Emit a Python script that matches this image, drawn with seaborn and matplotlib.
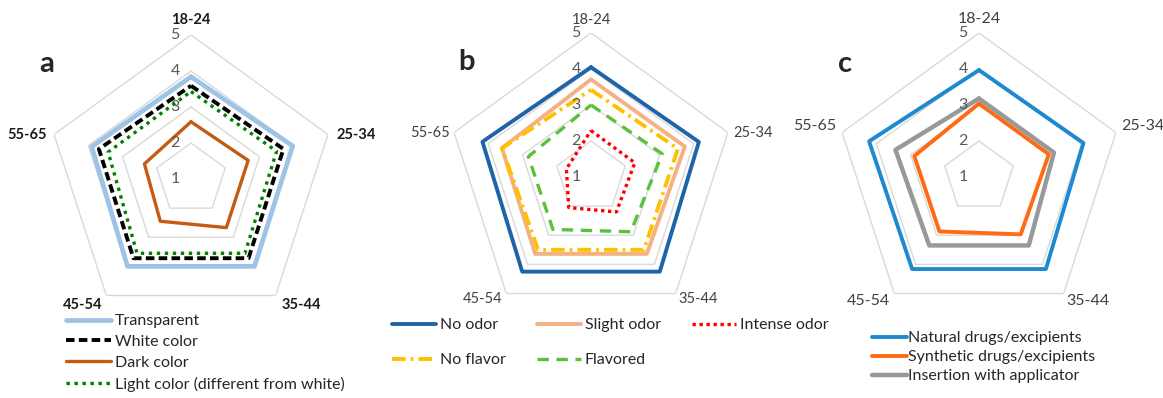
import numpy as np
import pandas as pd
import matplotlib
matplotlib.use("Agg")
import matplotlib.pyplot as plt
import seaborn as sns

# ---- data ----
categories = ["18-24", "25-34", "35-44", "45-54", "55-65"]
tick_values = [1, 2, 3, 4, 5]

# panel a: colour
a_labels = ["Transparent", "White color", "Dark color", "Light color (different from white)"]
a_transparent = [3.84, 3.97, 4.00, 4.00, 3.90]
a_white = [3.59, 3.70, 3.72, 3.72, 3.69]
a_dark = [2.59, 2.67, 2.67, 2.45, 2.36]
a_light = [3.43, 3.50, 3.55, 3.55, 3.42]

# panel b: odor / flavor
b_labels = ["No odor", "Slight odor", "Intense odor", "No flavor", "Flavored"]
b_no_odor = [4.05, 4.15, 4.25, 4.25, 4.17]
b_slight_odor = [3.71, 3.74, 3.64, 3.64, 3.60]
b_intense_odor = [2.29, 2.28, 2.20, 2.05, 1.72]
b_no_flavor = [3.42, 3.54, 3.50, 3.50, 3.60]
b_flavored = [3.00, 3.08, 2.88, 2.80, 2.83]

# panel c: drugs / applicator
c_labels = ["Natural drugs/excipients", "Synthetic drugs/excipients", "Insertion with applicator"]
c_natural = [3.97, 4.05, 4.16, 4.16, 4.21]
c_synthetic = [3.04, 3.04, 2.97, 2.87, 2.89]
c_applicator = [3.18, 3.19, 3.35, 3.35, 3.44]

sns.set_theme(style="white")
plt.rcParams["font.family"] = ["Lato", "DejaVu Sans"]

W, H = 1163, 398
fig = plt.figure(figsize=(W / 100, H / 100), dpi=100)
R = 144

angles = np.linspace(0, 2 * np.pi, len(categories), endpoint=False)
closed = np.append(angles, 2 * np.pi)


def make_ax(cx, cy):
    ax = fig.add_axes([(cx - R) / W, (H - cy - R) / H, 2 * R / W, 2 * R / H], projection="polar")
    ax.set_theta_offset(np.pi / 2)
    ax.set_theta_direction(-1)
    ax.set_ylim(1, 5)
    ax.grid(False)
    ax.spines["polar"].set_visible(False)
    ax.set_xticks([])
    ax.set_yticks([])
    ax.patch.set_alpha(0)
    for v in tick_values[1:]:
        ax.plot(closed, [v] * len(closed), color="#d9d9d9", lw=1.0, zorder=1)
    return ax


def draw(ax, series):
    for name, vals, color, ls, lw in series:
        df = pd.DataFrame({"theta": closed, "r": list(vals) + [vals[0]]})
        sns.lineplot(data=df, x="theta", y="r", ax=ax, sort=False, estimator=None,
                     color=color, linestyle=ls, lw=lw, label=name, zorder=3)
    h, l = ax.get_legend_handles_labels()
    if ax.get_legend() is not None:
        ax.get_legend().remove()
    ax.set_xlabel("")
    ax.set_ylabel("")
    ax.set_xticks([])
    ax.set_yticks([])
    ax.set_ylim(1, 5)
    return dict(zip(l, h))


def annotate(ax, offsets, size, weight, color, tick_dx):
    for ang, cat, (dx, dy, ha) in zip(angles, categories, offsets):
        ax.annotate(cat, xy=(ang, 5), xytext=(dx, dy), textcoords="offset pixels",
                    ha=ha, va="center", fontsize=size, fontweight=weight, color=color)
    for v in tick_values:
        ax.annotate(str(v), xy=(0, v), xytext=(tick_dx, 0), textcoords="offset pixels",
                    ha="center", va="center", fontsize=11.5, color="#595959")


# ---- panel a ----
ax_a = make_ax(191, 179)
ha_ = draw(ax_a, [
    (a_labels[0], a_transparent, "#9DC3E6", "-", 3.4),
    (a_labels[1], a_white, "black", (0, (2.2, 1.1)), 2.8),
    (a_labels[2], a_dark, "#C55A11", "-", 2.4),
    (a_labels[3], a_light, "#008000", (0, (1, 1.4)), 2.4),
])
annotate(ax_a, [(0, 15, "center"), (9, 0, "left"), (6, -10, "left"),
                (-4, -10, "right"), (-7, 0, "right")], 10.5, "bold", "#1a1a1a", -16)

# ---- panel b ----
ax_b = make_ax(591, 177)
hb = draw(ax_b, [
    (b_labels[0], b_no_odor, "#1F64A8", "-", 2.8),
    (b_labels[1], b_slight_odor, "#F4B183", "-", 2.8),
    (b_labels[2], b_intense_odor, "#FF0000", (0, (1, 1.1)), 2.4),
    (b_labels[3], b_no_flavor, "#FFC000", (0, (3.5, 1.3, 0.7, 1.3)), 2.8),
    (b_labels[4], b_flavored, "#5CC13A", (0, (3.4, 2.3)), 2.4),
])
annotate(ax_b, [(0, 13, "center"), (5, 0, "left"), (3, -6, "left"),
                (-4, -6, "right"), (-4, 0, "right")], 10.5, "normal", "#404040", -15)

# ---- panel c ----
ax_c = make_ax(979, 177)
hc = draw(ax_c, [
    (c_labels[0], c_natural, "#1E88D0", "-", 2.8),
    (c_labels[1], c_synthetic, "#FF6A12", "-", 2.8),
    (c_labels[2], c_applicator, "#999999", "-", 3.2),
])
annotate(ax_c, [(0, 14, "center"), (5, 7, "left"), (3, -8, "left"),
                (-4, -8, "right"), (-6, 7, "right")], 11.5, "normal", "#404040", -16)

# ---- panel letters ----
for txt, x, y in [("a", 47, 64), ("b", 466, 62), ("c", 845, 64)]:
    fig.text(x / W, 1 - y / H, txt, fontsize=21, fontweight="bold", ha="center", va="center")

# ---- legends ----
leg_kw = dict(frameon=False, borderpad=0, borderaxespad=0, fontsize=11.5, loc="upper left")
fig.legend([ha_[n] for n in a_labels], a_labels, bbox_to_anchor=(66 / W, 1 - 314 / H),
           handlelength=2.8, handletextpad=0.25, labelspacing=0.42, **leg_kw)

b_order = [b_labels[0], b_labels[3], b_labels[1], b_labels[4], b_labels[2]]
fig.legend([hb[n] for n in b_order], b_order, ncol=3, bbox_to_anchor=(392 / W, 1 - 318 / H),
           handlelength=2.75, handletextpad=0.25, labelspacing=1.3, columnspacing=1.95, **leg_kw)

fig.legend([hc[n] for n in c_labels], c_labels, bbox_to_anchor=(872 / W, 1 - 331 / H),
           handlelength=2.2, handletextpad=0.05, labelspacing=0.3, **leg_kw)

fig.savefig("out.png", dpi=100)
